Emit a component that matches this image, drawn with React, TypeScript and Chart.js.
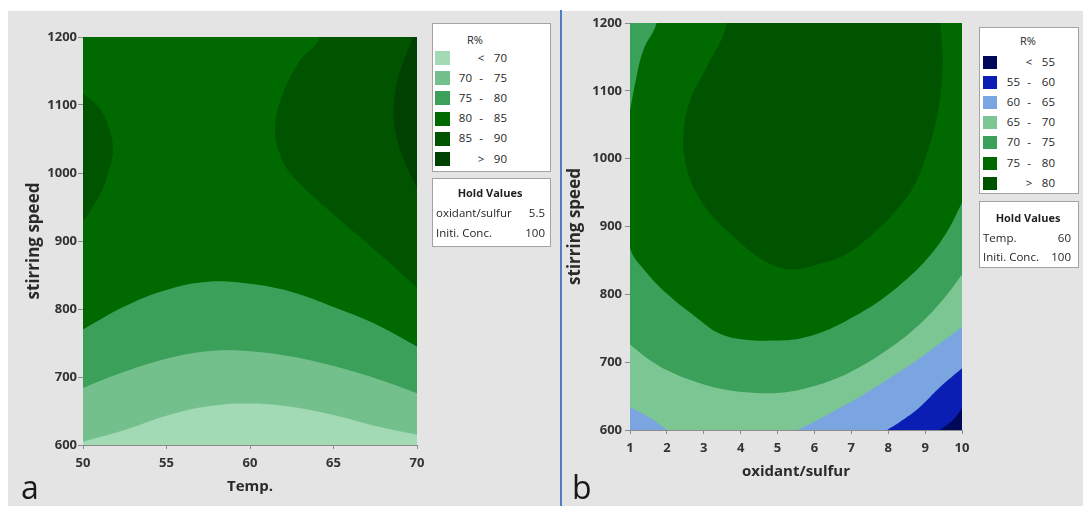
import React, { useEffect, useRef } from 'react';
import { Chart, registerables } from 'chart.js';

Chart.register(...registerables);

const FONT = '"Open Sans", "Noto Sans", "DejaVu Sans", sans-serif';

type Pt = [number, number];

// ---------------- Panel a : Temp. vs stirring speed ----------------
const aXTicks = [50, 55, 60, 65, 70];
const aYTicks = [600, 700, 800, 900, 1000, 1100, 1200];
const aLevels = ['< 70', '70 - 75', '75 - 80', '80 - 85', '85 - 90', '> 90'];
const aColors = ['#a1dab4', '#74c08d', '#3ba05a', '#006a00', '#005400', '#004000'];
const aTemp = [50, 52.5, 55, 57.5, 60, 62.5, 65, 67.5, 70];
const aR70 = [605, 622, 643, 657, 661, 656, 644, 628, 615];
const aR75 = [684, 708, 727, 738, 738, 730, 716, 698, 676];
const aR80 = [770, 804, 828, 840, 837, 825, 803, 778, 745];
const aFull: Pt[] = [[50, 1200], [70, 1200]];
const aR85Left: Pt[] = [[48, 1150], [50, 1116], [51.0, 1095], [51.5, 1070], [51.8, 1035], [51.5, 1000], [51.1, 972], [50.5, 947], [50, 930], [48, 900]];
const aR85Right: Pt[] = [[64.6, 1260], [64.2, 1200], [62.9, 1162], [61.9, 1112], [61.5, 1068], [61.7, 1034], [62.4, 1000], [63.6, 970], [65.2, 935], [66.8, 901], [68.4, 867], [70, 832], [71.6, 800], [76, 780], [76, 1260]];
const aR90: Pt[] = [[69.9, 1260], [69.7, 1200], [69.0, 1151], [68.6, 1097], [68.8, 1049], [69.4, 1009], [70, 979], [70.8, 955], [74, 940], [74, 1260]];
const aHold: [string, string][] = [['oxidant/sulfur', '5.5'], ['Initi. Conc.', '100']];

// ---------------- Panel b : oxidant/sulfur vs stirring speed ----------------
const bXTicks = [1, 2, 3, 4, 5, 6, 7, 8, 9, 10];
const bYTicks = [600, 700, 800, 900, 1000, 1100, 1200];
const bLevels = ['< 55', '55 - 60', '60 - 65', '65 - 70', '70 - 75', '75 - 80', '> 80'];
const bColors = ['#00085a', '#0a1eb4', '#7aa5e0', '#7cc694', '#3ba05a', '#006a00', '#005400'];
const bRatio = [1, 1.54, 2.17, 2.9, 3.63, 4.33, 5.07, 5.8, 6.5, 7.23, 7.97, 8.67, 9.4, 10];
const bR70 = [726, 703, 684, 669, 659, 655, 655, 662, 674, 693, 718, 747, 787, 829];
const bFull: Pt[] = [[1, 1200], [10, 1200]];
const bR75: Pt[] = [[1.85, 1260], [1.72, 1200], [1.36, 1160], [1.14, 1111], [1.0, 1071], [0.6, 970], [1.0, 868], [1.45, 832], [2.08, 797], [2.8, 766], [3.44, 742], [4.16, 733], [4.89, 732], [5.61, 735], [6.33, 747], [7.06, 767], [7.78, 791], [8.41, 818], [9.05, 852], [9.59, 892], [10, 935], [10.5, 990], [12, 1050], [12, 1260]];
const bR80: Pt[] = [[3.5, 1260], [3.62, 1200], [3.08, 1135], [2.63, 1086], [2.45, 1037], [2.49, 998], [2.72, 958], [3.17, 919], [3.71, 890], [4.35, 860], [4.98, 841], [5.5, 837], [6.15, 845], [6.88, 860], [7.6, 890], [8.14, 919], [8.68, 958], [9.05, 1008], [9.32, 1061], [9.45, 1111], [9.47, 1160], [9.41, 1200], [9.35, 1260]];
const bR65Left: Pt[] = [[1, 634], [1.54, 618], [2.0, 600], [2.4, 588]];
const bR65Right: Pt[] = [[5.2, 592], [5.53, 600], [5.8, 607], [6.5, 627], [7.23, 649], [7.97, 674], [8.67, 699], [9.4, 728], [10, 752]];
const bR60: Pt[] = [[7.6, 590], [7.97, 600], [8.4, 615], [8.86, 634], [9.4, 663], [10, 691]];
const bR55: Pt[] = [[9.1, 590], [9.4, 600], [9.76, 615], [10, 632]];
const bHold: [string, string][] = [['Temp.', '60'], ['Initi. Conc.', '100']];

type Layer = { data: Pt[]; color: string; fill: string };
const zip = (xs: number[], ys: number[]): Pt[] => xs.map((x, i) => [x, ys[i]] as Pt);

const aLayers: Layer[] = [
  { data: aFull, color: aColors[3], fill: 'start' },
  { data: aR85Left, color: aColors[4], fill: 'shape' },
  { data: aR85Right, color: aColors[4], fill: 'shape' },
  { data: aR90, color: aColors[5], fill: 'shape' },
  { data: zip(aTemp, aR80), color: aColors[2], fill: 'start' },
  { data: zip(aTemp, aR75), color: aColors[1], fill: 'start' },
  { data: zip(aTemp, aR70), color: aColors[0], fill: 'start' },
];

const bLayers: Layer[] = [
  { data: bFull, color: bColors[4], fill: 'start' },
  { data: bR75, color: bColors[5], fill: 'shape' },
  { data: bR80, color: bColors[6], fill: 'shape' },
  { data: zip(bRatio, bR70), color: bColors[3], fill: 'start' },
  { data: bR65Left, color: bColors[2], fill: 'start' },
  { data: bR65Right, color: bColors[2], fill: 'start' },
  { data: bR60, color: bColors[1], fill: 'start' },
  { data: bR55, color: bColors[0], fill: 'start' },
];

interface PlotProps {
  left: number; top: number; width: number; height: number;
  layers: Layer[];
  xMin: number; xMax: number; yMin: number; yMax: number;
  xTicks: number[]; yTicks: number[];
  xTitle: string; yTitle: string;
  padTop: number; padRight: number; yAxisWidth: number; xAxisHeight: number;
  yTitlePad: number; xTitlePad: number; yTickPad: number;
}

const AXIS = '#8c8c8c';

function ContourPlot(p: PlotProps) {
  const ref = useRef<HTMLCanvasElement>(null);
  useEffect(() => {
    const canvas = ref.current as HTMLCanvasElement;
    const n = p.layers.length;
    const tickFont = { family: FONT, size: 13, weight: 'bold' as any };
    const titleFont = { family: FONT, size: 15, weight: 'bold' as any };
    const chart = new Chart(canvas, {
      type: 'line',
      data: {
        datasets: p.layers.map((l, i) => ({
          data: l.data.map(([x, y]) => ({ x, y })),
          backgroundColor: l.color,
          borderColor: l.color,
          borderWidth: 0,
          pointRadius: 0,
          pointHoverRadius: 0,
          tension: 0.4,
          fill: l.fill as any,
          order: n - i,
        })),
      },
      options: {
        animation: false,
        responsive: false,
        devicePixelRatio: 1,
        events: [],
        layout: { padding: { left: 0, top: p.padTop, right: p.padRight, bottom: 0 } },
        plugins: {
          legend: { display: false },
          tooltip: { enabled: false },
          filler: { propagate: false },
        },
        scales: {
          x: {
            type: 'linear',
            min: p.xMin,
            max: p.xMax,
            offset: false,
            afterBuildTicks: (s: any) => { s.ticks = p.xTicks.map((v) => ({ value: v })); },
            afterFit: (s: any) => { s.height = p.xAxisHeight; },
            ticks: { font: tickFont, color: '#333333', padding: 6, maxRotation: 0, autoSkip: false, callback: (v: any) => String(v) },
            grid: { drawOnChartArea: false, drawTicks: true, tickLength: 4, color: AXIS },
            border: { display: true, color: AXIS, width: 1 },
            title: { display: true, text: p.xTitle, font: titleFont, color: '#2a2a2a', padding: { top: 0, bottom: p.xTitlePad } },
          },
          y: {
            type: 'linear',
            min: p.yMin,
            max: p.yMax,
            afterBuildTicks: (s: any) => { s.ticks = p.yTicks.map((v) => ({ value: v })); },
            afterFit: (s: any) => { s.width = p.yAxisWidth; },
            ticks: { font: tickFont, color: '#333333', padding: p.yTickPad, autoSkip: false, callback: (v: any) => String(v) },
            grid: { drawOnChartArea: false, drawTicks: true, tickLength: 5, color: AXIS },
            border: { display: true, color: AXIS, width: 1 },
            title: { display: true, text: p.yTitle, font: { family: FONT, size: 17, weight: 'bold' as any }, color: '#2a2a2a', padding: { top: p.yTitlePad, bottom: 0 } },
          },
        },
      },
    } as any);
    return () => chart.destroy();
  }, []);
  return (
    <canvas
      ref={ref}
      width={p.width}
      height={p.height}
      style={{ position: 'absolute', left: p.left, top: p.top, width: p.width, height: p.height }}
    />
  );
}

function Txt(props: { x: number; y: number; size?: number; weight?: number; align?: 'left' | 'center' | 'right'; children: React.ReactNode }) {
  const { x, y, size = 11.5, weight = 400, align = 'left', children } = props;
  const tx = align === 'center' ? '-50%' : align === 'right' ? '-100%' : '0';
  return (
    <div
      style={{
        position: 'absolute', left: x, top: y - size * 0.56, fontSize: size, lineHeight: `${size}px`,
        fontWeight: weight, color: '#1f1f1f', whiteSpace: 'nowrap', transform: `translateX(${tx})`, fontFamily: FONT,
      }}
    >
      {children}
    </div>
  );
}

interface LegendProps {
  box: [number, number, number, number];
  titleX: number; titleY: number;
  row0: number; step: number;
  swX: number; swW: number; swH: number;
  loRight: number; symX: number; hiRight: number;
  labels: string[]; colors: string[];
  holdBox: [number, number, number, number];
  holdTitleX: number; holdTitleY: number; holdRows: number[];
  holdLabelX: number; holdValueRight: number;
  hold: [string, string][];
}

function Legend(p: LegendProps) {
  const boxStyle = (b: [number, number, number, number]) => ({
    position: 'absolute' as const, left: b[0], top: b[1], width: b[2], height: b[3],
    background: '#ffffff', border: '1px solid #a3a3a3', boxSizing: 'border-box' as const,
  });
  return (
    <>
      <div style={boxStyle(p.box)} />
      <Txt x={p.titleX} y={p.titleY} size={11} align="center">R%</Txt>
      {p.labels.map((lab, i) => {
        const y = p.row0 + i * p.step;
        const parts = lab.split(' ');
        const lo = parts.length === 3 ? parts[0] : '';
        const sym = parts.length === 3 ? parts[1] : parts[0];
        const hi = parts[parts.length - 1];
        return (
          <React.Fragment key={lab}>
            <div style={{ position: 'absolute', left: p.swX, top: y - p.swH / 2, width: p.swW, height: p.swH, background: p.colors[i] }} />
            {lo && <Txt x={p.loRight} y={y} align="right">{lo}</Txt>}
            <Txt x={p.symX} y={y} align="center">{sym}</Txt>
            <Txt x={p.hiRight} y={y} align="right">{hi}</Txt>
          </React.Fragment>
        );
      })}
      <div style={boxStyle(p.holdBox)} />
      <Txt x={p.holdTitleX} y={p.holdTitleY} size={11} weight={700} align="center">Hold Values</Txt>
      {p.hold.map(([k, v], i) => (
        <React.Fragment key={k}>
          <Txt x={p.holdLabelX} y={p.holdRows[i]}>{k}</Txt>
          <Txt x={p.holdValueRight} y={p.holdRows[i]} align="right">{v}</Txt>
        </React.Fragment>
      ))}
    </>
  );
}

export default function App() {
  return (
    <div style={{ position: 'fixed', left: 0, top: 0, width: 1083, height: 506, background: '#ffffff', overflow: 'hidden', fontFamily: FONT }}>
      <div style={{ position: 'absolute', left: 8, top: 11, width: 1075, height: 495, background: '#e4e4e4' }} />
      <div style={{ position: 'absolute', left: 560, top: 10, width: 2, height: 496, background: '#4f7fc0' }} />

      <ContourPlot
        left={8} top={11} width={550} height={493}
        layers={aLayers}
        xMin={50} xMax={70} yMin={600} yMax={1200}
        xTicks={aXTicks} yTicks={aYTicks}
        xTitle="Temp." yTitle="stirring speed"
        padTop={26} padRight={141} yAxisWidth={75} xAxisHeight={59}
        yTitlePad={16} xTitlePad={8} yTickPad={1}
      />
      <ContourPlot
        left={565} top={10} width={518} height={494}
        layers={bLayers}
        xMin={1} xMax={10} yMin={600} yMax={1200}
        xTicks={bXTicks} yTicks={bYTicks}
        xTitle="oxidant/sulfur" yTitle="stirring speed"
        padTop={13} padRight={121} yAxisWidth={65} xAxisHeight={74}
        yTitlePad={0} xTitlePad={23} yTickPad={3}
      />

      <Legend
        box={[432, 23, 119, 149]} titleX={475} titleY={40}
        row0={58} step={20.2} swX={435} swW={15} swH={14}
        loRight={472} symX={481} hiRight={507}
        labels={aLevels} colors={aColors}
        holdBox={[432, 178, 119, 69]} holdTitleX={490} holdTitleY={193} holdRows={[213, 233]}
        holdLabelX={436} holdValueRight={545} hold={aHold}
      />
      <Legend
        box={[979, 27, 100, 167]} titleX={1028} titleY={41}
        row0={62} step={20.2} swX={983} swW={14} swH={13}
        loRight={1020} symX={1029} hiRight={1055}
        labels={bLevels} colors={bColors}
        holdBox={[979, 201, 100, 67]} holdTitleX={1028} holdTitleY={218} holdRows={[238, 257]}
        holdLabelX={983} holdValueRight={1071} hold={bHold}
      />

      <div style={{ position: 'absolute', left: 21, top: 471, fontSize: 32, lineHeight: '32px', color: '#1a1a1a', fontFamily: FONT }}>a</div>
      <div style={{ position: 'absolute', left: 572, top: 471, fontSize: 32, lineHeight: '32px', color: '#1a1a1a', fontFamily: FONT }}>b</div>
    </div>
  );
}
